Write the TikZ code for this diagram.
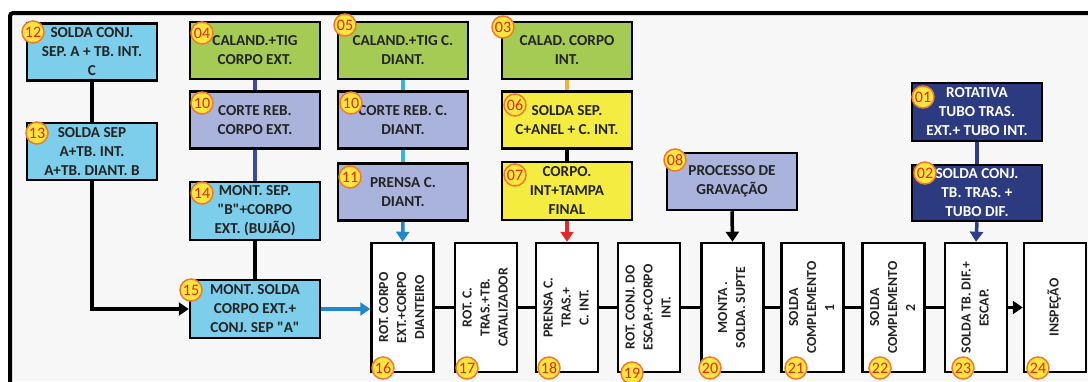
\documentclass[tikz,border=0pt]{standalone}
\usepackage{fontspec}
\newfontfamily\dfont{Carlito}
\usetikzlibrary{arrows.meta}
\definecolor{cyanfill}{RGB}{125,206,234}
\definecolor{greenfill}{RGB}{165,203,85}
\definecolor{lavfill}{RGB}{170,179,219}
\definecolor{yelfill}{RGB}{245,236,66}
\definecolor{navyfill}{RGB}{44,58,128}
\definecolor{badgefill}{RGB}{255,230,60}
\definecolor{badgeline}{RGB}{240,120,50}
\definecolor{badgetxt}{RGB}{225,40,20}
\definecolor{txt}{RGB}{35,35,35}
\definecolor{bgin}{RGB}{247,247,247}
\definecolor{lnblue}{RGB}{61,76,160}
\definecolor{lnlight}{RGB}{55,180,230}
\definecolor{lnarrow}{RGB}{30,135,205}
\definecolor{lnorange}{RGB}{240,180,50}
\definecolor{lnred}{RGB}{230,40,40}
\definecolor{lnnavy}{RGB}{45,60,140}
\newcommand{\dupfont}{\dfont\fontsize{15.2}{19}\selectfont\bfseries}
\newcommand{\dbotfont}{\dfont\fontsize{13.8}{18}\selectfont\bfseries}
\newcommand{\dbadgefont}{\dfont\fontsize{16}{16}\selectfont}
\newcommand{\rtext}[1]{\rotatebox{90}{\begin{tabular}{@{}c@{}}#1\end{tabular}}}
\tikzset{
  box/.style={draw=black, line width=2.5pt, minimum width=130pt, minimum height=57pt, inner sep=0pt, align=center, font=\dupfont, text=txt},
  botbox/.style={draw=black, line width=2.5pt, fill=white, minimum width=62pt, minimum height=129pt, inner sep=0pt, font=\dbotfont, text=txt},
  badge/.style={circle, draw=badgeline, line width=1.5pt, fill=badgefill, text=badgetxt, minimum size=22pt, inner sep=0pt, font=\dbadgefont},
  link/.style={line width=3.5pt},
  tip/.style={-{Triangle[length=10pt,width=13pt]}}
}
\begin{document}
\begin{tikzpicture}[x=1pt,y=-1pt]
\useasboundingbox (0,0) rectangle (1088,381);
\fill[white] (0,0) rectangle (1088,381);
\fill[bgin] (10,13) rectangle (1088,381);
\draw[line width=4pt, rounded corners=3pt] (10,395) -- (10,13) -- (1100,13);

% upper boxes
\node[box, fill=cyanfill] (b12) at (92,52) {SOLDA CONJ.\\SEP. A + TB. INT.\\C};
\node[box, fill=cyanfill] (b13) at (92,151.5) {SOLDA SEP\\A+TB. INT.\\A+TB. DIANT. B};
\node[box, fill=greenfill] (b04) at (255,50.5) {CALAND.+TIG\\CORPO EXT.};
\node[box, fill=lavfill] (b10a) at (255,120) {CORTE REB.\\CORPO EXT.};
\node[box, fill=cyanfill, minimum height=58pt] (b14) at (255,211) {MONT. SEP.\\"B"+CORPO\\EXT. (BUJÃO)};
\node[box, fill=cyanfill, minimum height=58pt] (b15) at (255,309) {MONT. SOLDA\\CORPO EXT.+\\CONJ. SEP "A"};
\node[box, fill=greenfill] (b05) at (403,50.5) {CALAND.+TIG C.\\DIANT.};
\node[box, fill=lavfill] (b10b) at (403,120) {CORTE REB. C.\\DIANT.};
\node[box, fill=lavfill] (b11) at (403,192) {PRENSA C.\\DIANT.};
\node[box, fill=greenfill] (b03) at (567,50.5) {CALAD. CORPO\\INT.};
\node[box, fill=yelfill] (b06) at (567,120) {SOLDA SEP.\\C+ANEL + C. INT.};
\node[box, fill=yelfill, minimum height=58pt] (b07) at (567,191) {CORPO.\\INT+TAMPA\\FINAL};
\node[box, fill=lavfill] (b08) at (732,181.5) {PROCESSO DE\\GRAVAÇÃO};
\node[box, fill=navyfill, text=white, minimum height=58pt] (b01) at (977,112) {ROTATIVA\\TUBO TRAS.\\EXT.+ TUBO INT.};
\node[box, fill=navyfill, text=white, minimum height=56pt] (b02) at (977,193) {SOLDA CONJ.\\TB. TRAS. +\\TUBO DIF.};

% bottom row
\node[botbox] (b16) at (402.5,307.5) {\rtext{ROT. CORPO\\EXT.+CORPO\\DIANTEIRO}};
\node[botbox] (b17) at (486,307.5) {\rtext{ROT. C.\\TRAS.+TB.\\CATALIZADOR}};
\node[botbox] (b18) at (567,307.5) {\rtext{PRENSA C.\\TRAS.+\\C. INT.}};
\node[botbox] (b19) at (649,307.5) {\rtext{ROT. CONJ. DO\\ESCAP.+CORPO\\INT.}};
\node[botbox] (b20) at (732.5,307.5) {\rtext{MONTA .\\SOLDA. SUPTE}};
\node[botbox] (b21) at (812.5,307.5) {\rtext{SOLDA\\COMPLEMENTO\\1}};
\node[botbox] (b22) at (893.5,307.5) {\rtext{SOLDA\\COMPLEMENTO\\2}};
\node[botbox] (b23) at (976,307.5) {\rtext{SOLDA TB. DIF.+\\ESCAP.}};
\node[botbox] (b24) at (1055,307.5) {\rtext{INSPEÇÃO}};

% connectors
\draw[link] (b12.south) -- (b13.north);
\draw[link, tip] (b13.south) |- (b15.west);
\draw[link, lnblue] (b04.south) -- (b10a.north);
\draw[link, lnblue] (b10a.south) -- (b14.north);
\draw[link] (b14.south) -- (b15.north);
\draw[link, lnarrow, tip] (b15.east) -- (b15.east -| b16.west);
\draw[link, lnlight] (b05.south) -- (b10b.north);
\draw[link, lnlight] (b10b.south) -- (b11.north);
\draw[link, lnarrow, tip] (b11.south) -- (b16.north);
\draw[link, lnorange] (b03.south) -- (b06.north);
\draw[link] (b06.south) -- (b07.north);
\draw[link, lnred, tip] (b07.south) -- (b18.north);
\draw[link, tip] (b08.south) -- (b20.north);
\draw[link, lnnavy] (b01.south) -- (b02.north);
\draw[link, lnnavy, tip] (b02.south) -- (b23.north);
\draw[link] (b16.east) -- (b17.west);
\draw[link] (b17.east) -- (b18.west);
\draw[link] (b18.east) -- (b19.west);
\draw[link] (b19.east) -- (b20.west);
\draw[link] (b20.east) -- (b21.west);
\draw[link] (b21.east) -- (b22.west);
\draw[link] (b22.east) -- (b23.west);
\draw[link, tip] (b23.east) -- (b24.west);

% badges
\node[badge] (n12) at (33,32) {12};
\node[badge] (n13) at (37,133) {13};
\node[badge] (n04) at (202,33) {04};
\node[badge] (n10a) at (202,103) {10};
\node[badge] (n14) at (202,193) {14};
\node[badge] (n15) at (191,290) {15};
\node[badge] (n05) at (345,25) {05};
\node[badge] (n10b) at (351,103) {10};
\node[badge] (n11) at (350,177) {11};
\node[badge] (n03) at (503,27) {03};
\node[badge] (n06) at (515,105) {06};
\node[badge] (n07) at (515,175) {07};
\node[badge] (n08) at (675,160) {08};
\node[badge] (n01) at (923,97) {01};
\node[badge] (n02) at (925,173) {02};
\node[badge] (n16) at (383,368) {16};
\node[badge] (n17) at (467,368) {17};
\node[badge] (n18) at (549,368) {18};
\node[badge] (n19) at (632,373) {19};
\node[badge] (n20) at (710,368) {20};
\node[badge] (n21) at (796,368) {21};
\node[badge] (n22) at (880,368) {22};
\node[badge] (n23) at (963,368) {23};
\node[badge] (n24) at (1038,368) {24};
\end{tikzpicture}
\end{document}
